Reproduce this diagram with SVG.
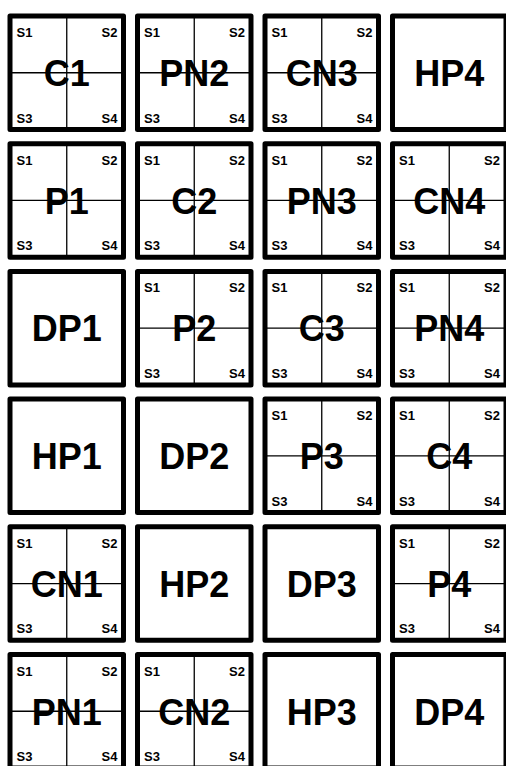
<svg xmlns="http://www.w3.org/2000/svg" width="506" height="766" viewBox="0 0 506 766">
<style>
.b{fill:#fff;stroke:#000;stroke-width:5;stroke-linejoin:round}
.x{stroke:#000;stroke-width:1.3;fill:none}
.t{font-family:"Liberation Sans",Arial,sans-serif;font-weight:bold;font-size:36px;text-anchor:middle;fill:#000}
.s{font-family:"Liberation Sans",Arial,sans-serif;font-weight:bold;font-size:13px;fill:#000}
.e{text-anchor:end}
</style>
<defs>
<g id="split">
<rect class="b" x="0" y="0" width="113.5" height="113.5"/>
<line class="x" x1="56.75" y1="0" x2="56.75" y2="113.5"/>
<line class="x" x1="0" y1="56.75" x2="113.5" y2="56.75"/>
<text class="s" x="6.5" y="21">S1</text>
<text class="s e" x="107.5" y="21">S2</text>
<text class="s" x="6.5" y="106.5">S3</text>
<text class="s e" x="107.5" y="106.5">S4</text>
</g>
<rect id="plain" class="b" x="0" y="0" width="113.5" height="113.5"/>
</defs>
<rect width="506" height="766" fill="#fff"/>
<g id="connectors"></g>

<g id="C1" transform="translate(10,16)"><use href="#split"/><text class="t" x="56.75" y="70">C1</text></g>
<g id="PN2" transform="translate(137.5,16)"><use href="#split"/><text class="t" x="56.75" y="70">PN2</text></g>
<g id="CN3" transform="translate(265,16)"><use href="#split"/><text class="t" x="56.75" y="70">CN3</text></g>
<g id="HP4" transform="translate(392.5,16)"><use href="#plain"/><text class="t" x="56.75" y="70">HP4</text></g>

<g id="P1" transform="translate(10,143.7)"><use href="#split"/><text class="t" x="56.75" y="70">P1</text></g>
<g id="C2" transform="translate(137.5,143.7)"><use href="#split"/><text class="t" x="56.75" y="70">C2</text></g>
<g id="PN3" transform="translate(265,143.7)"><use href="#split"/><text class="t" x="56.75" y="70">PN3</text></g>
<g id="CN4" transform="translate(392.5,143.7)"><use href="#split"/><text class="t" x="56.75" y="70">CN4</text></g>

<g id="DP1" transform="translate(10,271.4)"><use href="#plain"/><text class="t" x="56.75" y="70">DP1</text></g>
<g id="P2" transform="translate(137.5,271.4)"><use href="#split"/><text class="t" x="56.75" y="70">P2</text></g>
<g id="C3" transform="translate(265,271.4)"><use href="#split"/><text class="t" x="56.75" y="70">C3</text></g>
<g id="PN4" transform="translate(392.5,271.4)"><use href="#split"/><text class="t" x="56.75" y="70">PN4</text></g>

<g id="HP1" transform="translate(10,399.1)"><use href="#plain"/><text class="t" x="56.75" y="70">HP1</text></g>
<g id="DP2" transform="translate(137.5,399.1)"><use href="#plain"/><text class="t" x="56.75" y="70">DP2</text></g>
<g id="P3" transform="translate(265,399.1)"><use href="#split"/><text class="t" x="56.75" y="70">P3</text></g>
<g id="C4" transform="translate(392.5,399.1)"><use href="#split"/><text class="t" x="56.75" y="70">C4</text></g>

<g id="CN1" transform="translate(10,526.8)"><use href="#split"/><text class="t" x="56.75" y="70">CN1</text></g>
<g id="HP2" transform="translate(137.5,526.8)"><use href="#plain"/><text class="t" x="56.75" y="70">HP2</text></g>
<g id="DP3" transform="translate(265,526.8)"><use href="#plain"/><text class="t" x="56.75" y="70">DP3</text></g>
<g id="P4" transform="translate(392.5,526.8)"><use href="#split"/><text class="t" x="56.75" y="70">P4</text></g>

<g id="PN1" transform="translate(10,654.5)"><use href="#split"/><text class="t" x="56.75" y="70">PN1</text></g>
<g id="CN2" transform="translate(137.5,654.5)"><use href="#split"/><text class="t" x="56.75" y="70">CN2</text></g>
<g id="HP3" transform="translate(265,654.5)"><use href="#plain"/><text class="t" x="56.75" y="70">HP3</text></g>
<g id="DP4" transform="translate(392.5,654.5)"><use href="#plain"/><text class="t" x="56.75" y="70">DP4</text></g>
</svg>
